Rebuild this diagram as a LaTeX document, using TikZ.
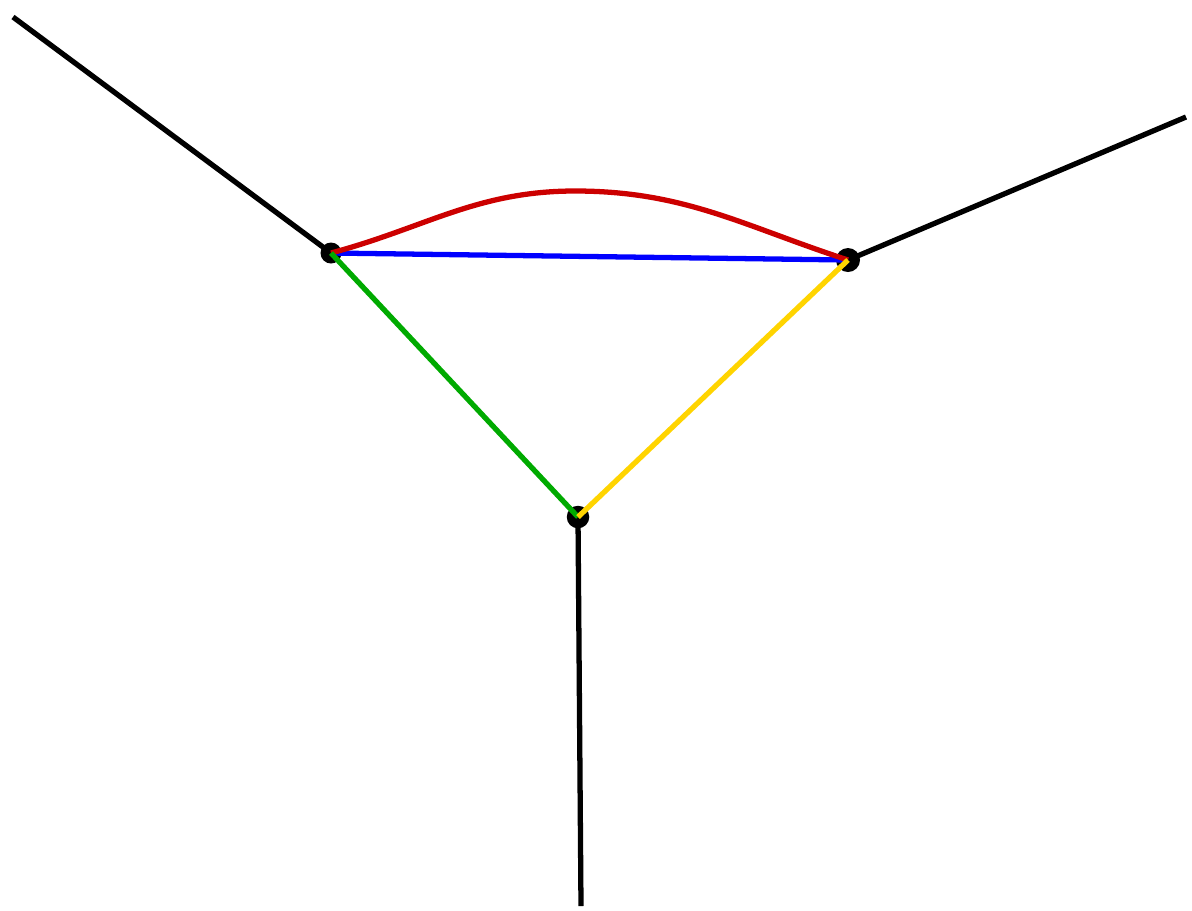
\documentclass[tikz,border=0pt]{standalone}
\usepackage{tikz}
\definecolor{edgered}{RGB}{204,0,0}
\definecolor{edgeblue}{RGB}{0,0,255}
\definecolor{edgegreen}{RGB}{0,170,0}
\definecolor{edgeyellow}{RGB}{255,212,0}
\begin{document}
\begin{tikzpicture}[line width=3pt]
		% Styles
		\tikzstyle{vertex} = [circle, fill=black, inner sep=0pt, minimum size=0.42cm]
		\useasboundingbox (0,0) rectangle (23.84,-18.2);
		
		% Nodes
		\node[vertex] (left) at (6.62,-5.06) {};
		\node[vertex, minimum size=0.48cm] (right) at (16.96,-5.2) {};
		\node[vertex, minimum size=0.45cm] (bottom) at (11.56,-10.34) {};
		\coordinate (leftend) at (0.26,-0.34);
		\coordinate (rightend) at (23.72,-2.34);
		\coordinate (bottomend) at (11.62,-18.12);
		\coordinate (redtop) at (11.5,-3.82);
		
		% Legs
		\draw[black] (leftend) -- (left.center);
		\draw[black] (rightend) -- (right.center);
		\draw[black] (bottomend) -- (bottom.center);
		
		% Edges
		\draw[edgeblue] (left.center) -- (right.center);
		\draw[edgered] (left.center) to[out=15, in=180] (redtop) to[out=0, in=162] (right.center);
		\draw[edgegreen] (left.center) -- (bottom.center);
		\draw[edgeyellow] (right.center) -- (bottom.center);
	\end{tikzpicture}
\end{document}
